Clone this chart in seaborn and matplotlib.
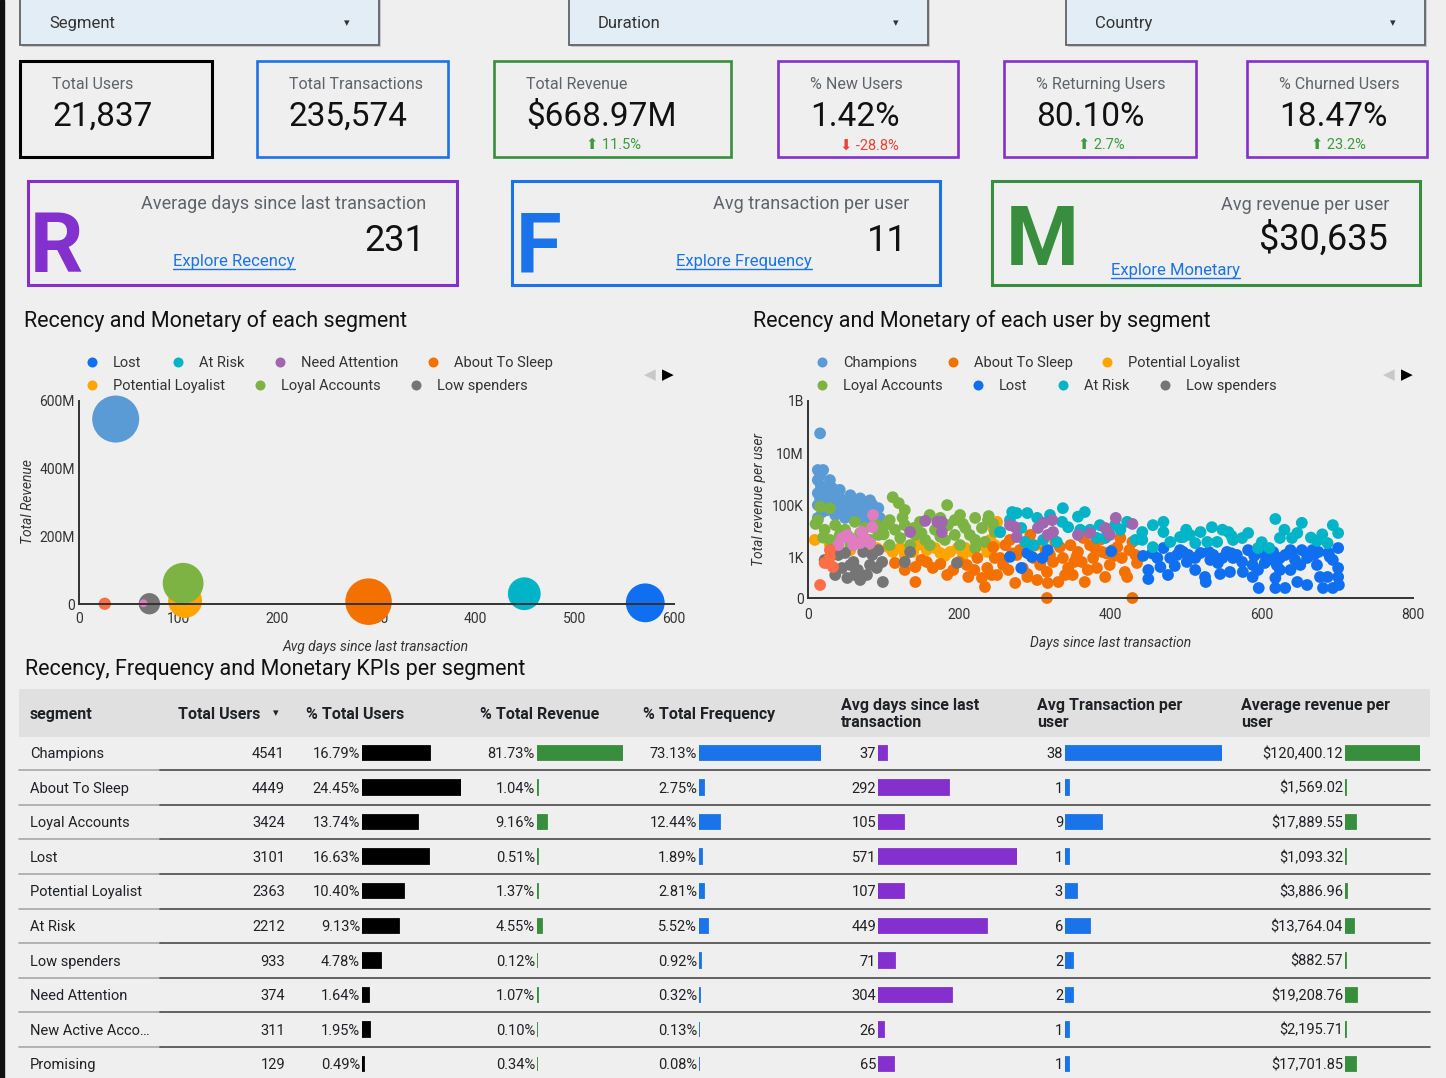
import numpy as np
import pandas as pd
import seaborn as sns
import matplotlib.pyplot as plt
from matplotlib.patches import Rectangle

W, H = 1446, 1078
BG = '#efefef'
INK = '#202124'
GREY_TXT = '#5f6368'
BLUE = '#1a73e8'
GREEN = '#388e3c'
PURPLE = '#8430ce'

# ---------------- filter bar / scorecards ----------------
filter_names = ['Segment', 'Duration', 'Country']
kpi_labels = ['Total Users', 'Total Transactions', 'Total Revenue',
              '% New Users', '% Returning Users', '% Churned Users']
kpi_values = ['21,837', '235,574', '$668.97M', '1.42%', '80.10%', '18.47%']
kpi_deltas = [None, None, 11.5, -28.8, 2.7, 23.2]

rfm_letters = ['R', 'F', 'M']
rfm_titles = ['Average days since last transaction', 'Avg transaction per user', 'Avg revenue per user']
rfm_values = ['231', '11', '$30,635']
rfm_links = ['Explore Recency', 'Explore Frequency', 'Explore Monetary']

# ---------------- segment table ----------------
segments = ['Champions', 'About To Sleep', 'Loyal Accounts', 'Lost', 'Potential Loyalist',
            'At Risk', 'Low spenders', 'Need Attention', 'New Active Accounts', 'Promising']
total_users = [4541, 4449, 3424, 3101, 2363, 2212, 933, 374, 311, 129]
pct_users = [16.79, 24.45, 13.74, 16.63, 10.40, 9.13, 4.78, 1.64, 1.95, 0.49]
pct_revenue = [81.73, 1.04, 9.16, 0.51, 1.37, 4.55, 0.12, 1.07, 0.10, 0.34]
pct_freq = [73.13, 2.75, 12.44, 1.89, 2.81, 5.52, 0.92, 0.32, 0.13, 0.08]
avg_days = [37, 292, 105, 571, 107, 449, 71, 304, 26, 65]
avg_trans = [38, 1, 9, 1, 3, 6, 2, 2, 1, 1]
avg_rev = [120400.12, 1569.02, 17889.55, 1093.32, 3886.96, 13764.04, 882.57, 19208.76, 2195.71, 17701.85]
# total revenue per segment (bubble chart y)
seg_revenue = [546.7e6, 6.96e6, 61.3e6, 3.41e6, 9.16e6, 30.4e6, 0.80e6, 7.16e6, 0.67e6, 2.27e6]

seg_colors = {
    'Champions': '#5b9bd5', 'About To Sleep': '#f47100', 'Loyal Accounts': '#7cb342',
    'Lost': '#0f6ff0', 'Potential Loyalist': '#ffa500', 'At Risk': '#00b4c8',
    'Low spenders': '#757575', 'Need Attention': '#a066ae', 'New Active Accounts': '#ff6e45',
    'Promising': '#e07cc0',
}

# ---------------- per user points (days, revenue) ----------------
champions_pts = [(16, 58e6), (13, 2.3e6), (20, 2.3e6), (16, 1.5e6), (13, 950e3), (29, 950e3),
                 (17, 560e3), (32, 470e3), (22, 400e3), (42, 400e3), (13, 300e3), (26, 250e3),
                 (40, 250e3), (56, 250e3), (16, 190e3), (69, 190e3), (36, 160e3), (49, 160e3),
                 (82, 160e3), (71, 125e3), (13, 105e3), (45, 105e3), (58, 105e3), (66, 80e3),
                 (79, 90e3), (93, 80e3), (19, 57e3), (26, 68e3), (53, 68e3), (85, 68e3),
                 (62, 57e3), (75, 57e3), (13, 34e3), (36, 44e3), (89, 44e3), (49, 34e3),
                 (95, 34e3), (62, 28e3), (75, 28e3), (89, 24e3), (30, 120e3), (55, 150e3),
                 (85, 110e3), (45, 60e3), (68, 45e3), (24, 150e3), (35, 90e3)]
pl_pts = [(9, 4.9e3), (29, 3.1e3), (56, 2e3), (82, 2e3), (91, 2.4e3), (106, 2.6e3), (112, 1.7e3),
          (122, 2.4e3), (128, 1.3e3), (139, 1.7e3), (145, 3.1e3), (157, 2e3), (168, 2.4e3),
          (175, 1.55e3), (181, 1.2e3), (188, 1.7e3), (198, 2.4e3), (205, 1.3e3), (208, 2.4e3),
          (218, 1.7e3), (227, 3.1e3), (237, 1.7e3), (241, 4.9e3), (245, 14e3), (247, 3.1e3),
          (250, 24e3), (254, 9.8e3)]
loyal_pts = [(16, 90e3), (29, 80e3), (112, 210e3), (120, 125e3), (184, 105e3), (13, 28e3),
             (36, 18e3), (49, 12e3), (62, 24e3), (75, 14e3), (93, 7.6e3), (102, 18e3),
             (115, 12e3), (128, 18e3), (142, 7.6e3), (155, 4.9e3), (168, 12e3), (185, 18e3),
             (194, 7.6e3), (208, 14e3), (221, 4.9e3), (230, 14e3), (238, 28e3), (247, 9.8e3),
             (29, 4.9e3), (56, 3.1e3), (82, 4.9e3), (108, 3.1e3), (135, 3.1e3), (161, 3.1e3),
             (201, 3.1e3), (221, 2.4e3), (175, 34e3), (201, 44e3), (148, 24e3), (22, 12e3),
             (42, 7.6e3), (69, 9e3), (95, 14e3), (122, 5.8e3), (140, 14e3), (181, 4.9e3),
             (214, 7.6e3), (234, 4.1e3), (108, 28e3), (128, 68e3), (161, 44e3), (194, 28e3),
             (221, 34e3), (239, 40e3), (10, 20e3), (55, 6e3), (88, 20e3), (150, 9e3),
             (175, 6.5e3), (205, 20e3), (245, 20e3), (20, 6e3), (100, 8e3), (125, 35e3)]
sleep_pts = [(115, 875), (128, 700), (142, 775), (142, 400), (157, 900), (165, 750), (184, 575),
             (192, 700), (210, 825), (212, 525), (224, 1e3), (230, 500), (234, 275), (237, 750),
             (243, 575), (247, 1e3), (245, 2.6e3), (254, 1e3), (250, 575), (261, 3.1e3),
             (274, 375), (276, 1.3e3), (284, 750), (290, 525), (298, 1e3), (303, 450), (307, 825),
             (316, 650), (317, 375), (324, 900), (331, 400), (333, 2.6e3), (337, 1e3), (344, 750),
             (350, 575), (357, 1.7e3), (362, 900), (366, 400), (373, 3.1e3), (377, 1e3),
             (382, 750), (389, 1.7e3), (393, 525), (399, 825), (409, 2.6e3), (415, 1e3),
             (419, 650), (422, 525), (429, 4.1e3), (433, 1.3e3), (435, 875), (316, 0), (429, 0),
             (294, 7.6e3), (327, 4.1e3), (364, 5.8e3), (413, 5.8e3), (267, 4.9e3), (258, 825),
             (314, 2e3), (347, 3.1e3), (386, 4.9e3), (403, 2e3), (280, 2e3), (340, 575),
             (370, 700), (265, 700), (150, 950), (175, 850), (200, 900), (220, 700),
             (270, 1.5e3), (300, 3e3), (320, 1.3e3), (355, 1.1e3), (380, 2.2e3), (405, 1.2e3),
             (425, 2e3), (290, 600), (352, 900), (395, 1.5e3)]
lost_pts = [(267, 1.1e3), (282, 750), (290, 1.55e3), (296, 1.1e3), (310, 1e3), (317, 2e3),
            (401, 1.8e3), (443, 1.2e3), (450, 700), (450, 475), (462, 1e3), (470, 2.4e3),
            (479, 1e3), (488, 1.3e3), (476, 575), (496, 1.7e3), (466, 775), (492, 2e3),
            (501, 900), (512, 700), (525, 525), (526, 400), (519, 1.55e3), (536, 1.3e3),
            (542, 875), (554, 1.7e3), (562, 1e3), (574, 900), (575, 650), (582, 2e3), (588, 825),
            (588, 525), (596, 250), (604, 875), (615, 1.7e3), (618, 500), (618, 250), (624, 1e3),
            (624, 700), (631, 250), (638, 2e3), (644, 950), (647, 400), (653, 2e3), (660, 1e3),
            (660, 325), (667, 2e3), (673, 825), (677, 525), (681, 250), (688, 1.55e3), (694, 950),
            (694, 250), (701, 2.4e3), (701, 750), (701, 525), (702, 325), (687, 525), (503, 1.3e3),
            (512, 1e3), (532, 950), (548, 1e3), (567, 1.3e3), (600, 1.55e3), (608, 950),
            (631, 1.3e3), (651, 825), (669, 1.3e3), (595, 700), (638, 700), (455, 1.5e3),
            (485, 800), (530, 1.7e3), (558, 650), (590, 1.2e3), (612, 1.1e3), (640, 1.6e3),
            (675, 1.7e3), (690, 1.1e3), (560, 1.5e3), (545, 600), (620, 820)]
at_risk_pts = [(270, 57e3), (276, 52e3), (290, 52e3), (303, 34e3), (337, 80e3), (366, 57e3),
               (357, 38e3), (254, 9.8e3), (287, 4.1e3), (298, 3.1e3), (311, 4.9e3), (329, 4.1e3),
               (344, 15e3), (336, 24e3), (360, 12e3), (373, 12e3), (382, 5.8e3), (393, 5.8e3),
               (406, 18e3), (422, 24e3), (442, 9.8e3), (442, 4.9e3), (456, 18e3), (470, 24e3),
               (470, 9.8e3), (479, 4.1e3), (496, 6.3e3), (456, 2.6e3), (492, 6.3e3), (505, 7.6e3),
               (519, 9.8e3), (534, 15e3), (548, 12e3), (556, 9.8e3), (562, 4.9e3), (574, 5.8e3),
               (582, 9e3), (595, 2.4e3), (610, 2.4e3), (618, 31e3), (624, 5.8e3), (640, 5.8e3),
               (647, 9e3), (653, 22e3), (673, 4.5e3), (687, 3.7e3), (694, 18e3), (701, 9e3),
               (512, 3.7e3), (528, 4.1e3), (541, 4.1e3), (320, 44e3), (267, 28e3), (282, 14e3),
               (386, 18e3), (413, 12e3), (433, 4.9e3), (500, 12e3), (560, 7e3), (600, 4e3),
               (630, 12e3), (665, 6e3), (680, 8e3)]
need_att_pts = [(135, 9.8e3), (155, 26e3), (171, 24e3), (177, 24e3), (177, 9.8e3), (267, 18e3),
                (274, 15e3), (276, 6.3e3), (304, 14e3), (311, 22e3), (317, 7.6e3), (323, 28e3),
                (324, 9.8e3), (357, 7.6e3), (373, 9e3), (393, 14e3), (399, 7.6e3), (407, 34e3),
                (429, 20e3)]
low_sp_pts = [(22, 950), (32, 2e3), (36, 575), (40, 1.3e3), (45, 750), (49, 1.55e3), (52, 500),
              (56, 825), (60, 900), (62, 575), (66, 700), (69, 450), (73, 1.7e3), (78, 575),
              (82, 825), (85, 1.3e3), (91, 750), (93, 2e3), (98, 900), (99, 400), (128, 900),
              (135, 1.7e3), (197, 875)]
promising_pts = [(40, 3.1e3), (45, 5.8e3), (52, 7.6e3), (58, 4.9e3), (60, 3.1e3), (69, 3.7e3),
                 (71, 9.8e3), (75, 5.8e3), (82, 3.7e3), (85, 15e3), (86, 44e3)]
new_active_pts = [(16, 325), (22, 875), (26, 875), (29, 2e3), (29, 1.1e3), (33, 775)]

user_points = {
    'Champions': champions_pts, 'Potential Loyalist': pl_pts, 'Loyal Accounts': loyal_pts,
    'About To Sleep': sleep_pts, 'Lost': lost_pts, 'At Risk': at_risk_pts,
    'Need Attention': need_att_pts, 'Low spenders': low_sp_pts, 'Promising': promising_pts,
    'New Active Accounts': new_active_pts,
}

# ---------------------------------------------------------------------------
sns.set_theme(style='white')
plt.rcParams['font.family'] = ['Roboto', 'DejaVu Sans']

fig = plt.figure(figsize=(W / 100, H / 100), dpi=100, facecolor=BG)
cv = fig.add_axes([0, 0, 1, 1], zorder=0)
cv.set_xlim(0, W)
cv.set_ylim(H, 0)
cv.axis('off')
cv.set_facecolor(BG)


def px_box(x0, y0, x1, y1):
    return [x0 / W, 1 - y1 / H, (x1 - x0) / W, (y1 - y0) / H]


def rect(x0, y0, x1, y1, ec, lw, fc=None, z=1):
    cv.add_patch(Rectangle((x0, y0), x1 - x0, y1 - y0, facecolor=fc if fc else 'none',
                           edgecolor=ec, linewidth=lw, zorder=z))


def txt(x, y, s, size, color=INK, ha='left', **kw):
    # y is the visual centre of capital letters
    return cv.text(x, y + 0.494 * size, s, fontsize=size, color=color, ha=ha,
                   va='baseline', **kw)


def underline(t, y, color):
    r = fig.canvas.get_renderer()
    bb = t.get_window_extent(r)
    inv = cv.transData.inverted()
    (xa, _), (xb, _) = inv.transform([[bb.x0, bb.y0], [bb.x1, bb.y0]])
    cv.plot([xa, xb], [y, y], color=color, lw=1.0)


cv.add_patch(Rectangle((0, 0), 4, H, color='#111111', zorder=5))

# filter dropdowns
for name, x0 in zip(filter_names, [20, 569, 1066]):
    rect(x0 + 2, -2, x0 + 361, 47, ec='none', lw=0, fc='#c9c9c9', z=1)
    rect(x0, -4, x0 + 359, 45, ec='#5f6368', lw=1.3, fc='#e3edf5', z=2)
    txt(x0 + 29, 22, name, 12, color='#333333', zorder=3)
    txt(x0 + 327, 22, '▾', 8, color='#333333', ha='center', zorder=3)

# KPI scorecards
card_x = [(20, 212), (257, 448), (494, 731), (778, 958), (1004, 1196), (1247, 1427)]
card_c = ['#000000', BLUE, GREEN, PURPLE, PURPLE, PURPLE]
delta_cx = [None, None, 614, 869, 1101, 1338]
for (x0, x1), col, lab, val, d, dcx in zip(card_x, card_c, kpi_labels, kpi_values, kpi_deltas, delta_cx):
    rect(x0, 61, x1, 157, ec=col, lw=2.2 if col == '#000000' else 1.9)
    txt(x0 + 32, 83, lab, 11.5, color=GREY_TXT)
    txt(x0 + 32, 114, val, 24, color='#111111')
    if d is not None:
        dc = '#3c9a3c' if d > 0 else '#ea4335'
        arrow = '⬆' if d > 0 else '⬇'
        txt(dcx, 144, f'{arrow} {d}%', 10.5, color=dc, ha='center')

# R / F / M cards
rfm_box = [(28, 457), (512, 940), (992, 1420)]
rfm_col = [PURPLE, BLUE, GREEN]
letter_x = [30, 516, 1006]
title_y = [203, 203, 204]
value_y = [238, 238, 237]
link_x = [173, 676, 1111]
link_y = [260, 260, 269]
letter_y = [242, 242, 235]
for i in range(3):
    x0, x1 = rfm_box[i]
    rect(x0, 181, x1, 285, ec=rfm_col[i], lw=2.2)
    txt(letter_x[i], letter_y[i], rfm_letters[i], 60, color=rfm_col[i], fontweight='bold')
    txt(x1 - 31, title_y[i], rfm_titles[i], 13, color=GREY_TXT, ha='right')
    txt(x1 - 32, value_y[i], rfm_values[i], 26, color='#111111', ha='right')
    t = txt(link_x[i], link_y[i], rfm_links[i], 12, color=BLUE)
    underline(t, link_y[i] + 9, BLUE)

# chart titles
txt(24, 319, 'Recency and Monetary of each segment', 15.5, color='#111111')
txt(753, 319, 'Recency and Monetary of each user by segment', 15.5, color='#111111')
txt(25, 667, 'Recency, Frequency and Monetary KPIs per segment', 15.5, color='#111111')


def legend_row(items, y):
    for name, x in items:
        cv.scatter([x], [y], s=52, color=seg_colors[name], linewidth=0, zorder=3)
        txt(x + 21, y, name, 10.5, color='#333333')


legend_row([('Lost', 92), ('At Risk', 178), ('Need Attention', 280), ('About To Sleep', 433)], 362)
legend_row([('Potential Loyalist', 92), ('Loyal Accounts', 260), ('Low spenders', 416)], 385)
legend_row([('Champions', 822), ('About To Sleep', 953), ('Potential Loyalist', 1107)], 362)
legend_row([('Loyal Accounts', 822), ('Lost', 978), ('At Risk', 1063), ('Low spenders', 1165)], 385)
for xl in (650, 1389):
    txt(xl, 374, '◀', 11, color='#c8c8c8', ha='center', family='DejaVu Sans')
    txt(xl + 18, 374, '▶', 11, color='#000000', ha='center', family='DejaVu Sans')

# ---------------- bubble chart (per segment) ----------------
bubble_order = ['Champions', 'Lost', 'At Risk', 'Need Attention', 'About To Sleep',
                'Potential Loyalist', 'Loyal Accounts', 'Low spenders', 'New Active Accounts', 'Promising']
seg_df = pd.DataFrame({'segment': segments, 'days': avg_days, 'revenue': seg_revenue,
                       'users': total_users}).set_index('segment').loc[bubble_order].reset_index()
ax1 = fig.add_axes(px_box(79, 401, 674, 604), zorder=2)
ax1.patch.set_alpha(0)
smax = (47 * 0.72) ** 2
umin, umax = min(total_users), max(total_users)
sns.scatterplot(data=seg_df, x='days', y='revenue', hue='segment', palette=seg_colors,
                size='users', sizes=(smax * umin / umax, smax), size_norm=(umin, umax),
                linewidth=0, alpha=1, legend=False, clip_on=False, ax=ax1)
ax1.set_xlim(0, 600)
ax1.set_ylim(0, 600e6)
ax1.set_xticks([0, 100, 200, 300, 400, 500, 600])
ax1.set_yticks([0, 200e6, 400e6, 600e6])
ax1.set_yticklabels(['0', '200M', '400M', '600M'])
ax1.set_xlabel('')
ax1.set_ylabel('')

# ---------------- per-user scatter ----------------
rows = []
for seg, pts in user_points.items():
    for d, v in pts:
        rows.append((seg, d, v))
user_df = pd.DataFrame(rows, columns=['segment', 'days', 'revenue'])
ax2 = fig.add_axes(px_box(808, 401, 1413, 598), zorder=2)
ax2.patch.set_alpha(0)
sns.scatterplot(data=user_df, x='days', y='revenue', hue='segment', palette=seg_colors,
                s=72, linewidth=0, alpha=1, legend=False, clip_on=False, ax=ax2)
ax2.set_yscale('symlog', linthresh=1000, linscale=1.377)
ax2.set_xlim(0, 800)
ax2.set_ylim(0, 1e9)
ax2.set_xticks([0, 200, 400, 600, 800])
ax2.set_yticks([0, 1e3, 1e5, 1e7, 1e9])
ax2.set_yticklabels(['0', '1K', '100K', '10M', '1B'])
ax2.minorticks_off()
ax2.set_xlabel('')
ax2.set_ylabel('')

for ax, xpad in ((ax1, 6), (ax2, 7)):
    sns.despine(ax=ax)
    for sp in ('left', 'bottom'):
        ax.spines[sp].set_color('#333333')
        ax.spines[sp].set_linewidth(1.4)
    ax.tick_params(axis='both', length=0, labelsize=10, labelcolor='#333333')
    ax.tick_params(axis='x', pad=xpad)
    ax.tick_params(axis='y', pad=3)

txt(376, 646, 'Avg days since last transaction', 10, color='#333333', ha='center', fontstyle='italic')
txt(1111, 642, 'Days since last transaction', 10, color='#333333', ha='center', fontstyle='italic')
cv.text(28, 502, 'Total Revenue', fontsize=10, color='#333333', rotation=90, ha='center',
        va='center', fontstyle='italic')
cv.text(759, 500, 'Total revenue per user', fontsize=10, color='#333333', rotation=90,
        ha='center', va='center', fontstyle='italic')

# ---------------- KPI table ----------------
rect(19, 689, 1430, 737, ec='none', lw=0, fc='#e0e0e0', z=0)
hdr = dict(fontweight='bold', color=INK)
txt(30, 713, 'segment', 11.5, **hdr)
txt(178, 713, 'Total Users', 11.5, **hdr)
txt(276, 712, '▾', 8, ha='center', color=INK)
txt(306, 713, '% Total Users', 11.5, **hdr)
txt(480, 713, '% Total Revenue', 11.5, **hdr)
txt(643, 713, '% Total Frequency', 11.5, **hdr)
for x, l1, l2 in ((841, 'Avg days since last', 'transaction'), (1037, 'Avg Transaction per', 'user'),
                  (1241, 'Average revenue per', 'user')):
    txt(x, 704, l1, 11.5, **hdr)
    txt(x, 721, l2, 11.5, **hdr)

row0, step = 753, 34.56
n = len(segments)
for i in range(n - 1):
    ly = row0 + (i + 0.5) * step
    cv.plot([19, 160], [ly, ly], color='#a8a8a8', lw=1.2)
    cv.plot([160, 1430], [ly, ly], color='#4a4a4a', lw=1.2)

for i, seg in enumerate(segments):
    y = row0 + i * step
    name = seg if len(seg) <= 18 else seg[:15] + '…'
    txt(30, y, name, 10.5, color=INK)
    txt(285, y, str(total_users[i]), 10.5, color=INK, ha='right')

bar_cols = [
    (pct_users, 362, 99, '#000000', lambda v: f'{v:.2f}%'),
    (pct_revenue, 537, 86, GREEN, lambda v: f'{v:.2f}%'),
    (pct_freq, 699, 122, BLUE, lambda v: f'{v:.2f}%'),
    (avg_days, 878, 139, PURPLE, lambda v: f'{v}'),
    (avg_trans, 1065, 157, BLUE, lambda v: f'{v}'),
    (avg_rev, 1345, 75, GREEN, lambda v: f'${v:,.2f}'),
]
for vals, bx, bw, col, fmt in bar_cols:
    bax = fig.add_axes(px_box(bx, row0 - step / 2, bx + bw, row0 + (n - 0.5) * step), zorder=2)
    bax.patch.set_alpha(0)
    sns.barplot(x=vals, y=[str(k) for k in range(n)], orient='h', color=col, saturation=1,
                width=0.42, edgecolor=col, linewidth=1.3, errorbar=None, ax=bax)
    bax.set_xlim(0, max(vals))
    bax.set_ylim(n - 0.5, -0.5)
    bax.axis('off')
    for i, v in enumerate(vals):
        txt(bx - 2, row0 + i * step, fmt(v), 10.5, color=INK, ha='right')

fig.savefig('out.png', dpi=100, facecolor=BG)
